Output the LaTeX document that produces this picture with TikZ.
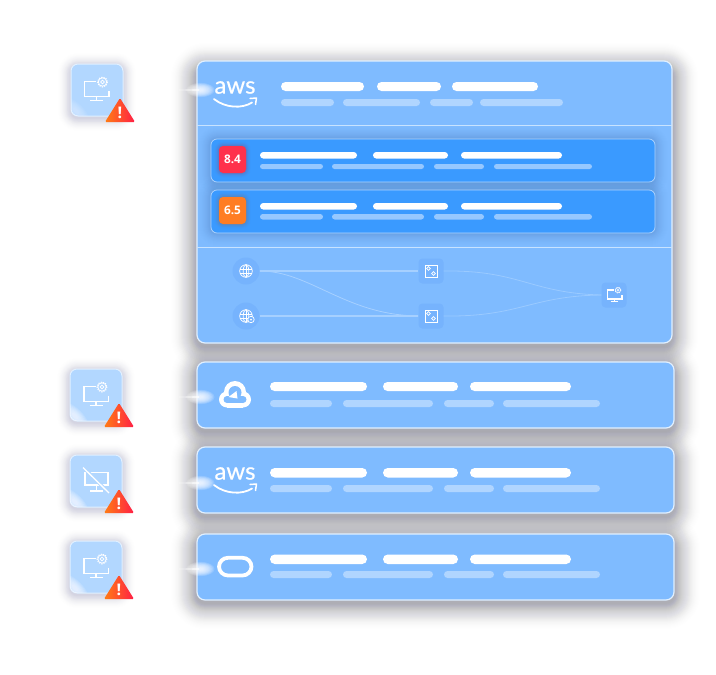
\documentclass[tikz,border=0pt]{standalone}
\usepackage{fontspec}
\setmainfont{Open Sans}
\newfontfamily\awsfont[FakeBold=0.4]{Lato}
\definecolor{cardc}{RGB}{127,187,255}
\definecolor{rowc}{RGB}{58,154,255}
\definecolor{panelc}{RGB}{178,215,255}
\definecolor{subc}{RGB}{176,213,255}
\definecolor{rowsub}{RGB}{150,200,255}
\definecolor{shc}{RGB}{55,55,75}
\definecolor{panelsh}{RGB}{90,90,150}
\definecolor{rowsh}{RGB}{40,80,140}
\definecolor{edgec}{RGB}{225,240,255}
\definecolor{iconbg}{RGB}{118,179,253}
\definecolor{flowc}{RGB}{166,208,255}
\definecolor{warnl}{RGB}{255,125,20}
\definecolor{warnr}{RGB}{255,30,70}
\definecolor{badgea}{RGB}{255,49,76}
\definecolor{badgeb}{RGB}{255,125,35}
\newcommand{\softsh}[9]{% x1 y1 x2 y2 radius spread layers opacity colour
  \foreach \i in {1,...,#7}{
    \pgfmathsetmacro{\sp}{#6*pow(\i/#7,1.05)}
    \pgfmathsetmacro{\rr}{#5+\sp}
    \pgfmathsetmacro{\op}{#8*(1.08-\i/#7)*2}
    \fill[#9,opacity=\op,rounded corners=\rr pt] (#1-\sp,#2-\sp) rectangle (#3+\sp,#4+\sp);
  }}
\newcommand{\glowat}[2]{%
  \foreach \k in {1,...,10}{
    \fill[white,opacity=.16] (#1+1.5,#2) ellipse ({1+\k*1.3} and {.6+\k*.65});
  }
  \fill[white,opacity=.6] (#1-20,#2-.25) -- (#1,#2-1) -- (#1,#2+1) -- (#1-20,#2+.25) -- cycle;
}
\newcommand{\barset}[4]{% y1 y2 colour list
  \foreach \a/\b in {#4}{
    \pgfmathsetmacro{\rr}{(#2-#1)/2}
    \fill[#3,rounded corners=\rr pt] (\a,#1) rectangle (\b,#2);
  }}
\newcommand{\panelglow}[3]{%
  \begin{scope}
  \clip[rounded corners=7pt] (#1,#2) rectangle (#1+52,#2+52);
  \foreach \k in {1,...,7}{
    \fill[white,opacity=#3,rotate around={-45:(#1+5,#2+47)}] (#1+5,#2+47) ellipse ({2+\k*2.3} and {1+\k*.9});
  }
  \end{scope}}
\newcommand{\warn}[3]{% x y name: left-bottom corner
  \shade[left color=warnl,right color=warnr,rounded corners=1.2pt]
    (#1,#2) -- (#1+15,#2-24) -- (#1+30,#2) -- cycle;
  \node[warnmark] (#3) at (#1+15,#2-9.5) {!};
}
\tikzset{
  x=1pt,y=-1pt,
  icl/.style={white,line width=1.9pt},
  warnmark/.style={white,inner sep=0pt,font=\fontsize{16}{16}\selectfont\bfseries},
  score/.style={white,inner sep=0pt,font=\fontsize{11.8}{13}\selectfont\bfseries},
  awstext/.style={white,inner sep=0pt,font=\awsfont\fontsize{24}{24}\selectfont},
  flowring/.style={circle,fill=iconbg,minimum size=27pt,inner sep=0pt},
  flowsq/.style={rectangle,rounded corners=4pt,fill=iconbg,minimum size=25pt,inner sep=0pt},
  flowbar/.style={flowc,line width=1.6pt},
  flowthin/.style={flowc,line width=.8pt},
  flowfaint/.style={flowc!70!cardc,line width=.8pt},
  moni/.pic={
    \draw[white,line width=#1] (11,-11) -- (-.5,-11) -- (-.5,4) -- (24,4) -- (24,-2);
    \draw[white,line width=#1] (11.5,4) -- (11.5,8);
    \draw[white,line width=#1] (5,8) -- (18,8);
    \draw[white,line width=.4*#1] (17.5,-10.5) circle (4.2);
    \draw[white,line width=.5*#1,dash pattern=on 1.2pt off 1.2pt] (17.5,-10.5) circle (5);
    \draw[white,line width=.35*#1] (17.5,-10.5) circle (1.8);
  },
  awssm/.pic={
    \draw[white,line width=1.8pt,line cap=round] (-21,11) .. controls (-10,20) and (7,21) .. (17,14.5);
    \draw[white,line width=1.5pt,line cap=round,line join=round] (15,10.5) -- (21.5,10) -- (20.5,16.5);
  },
}
\begin{document}
\begin{tikzpicture}
\useasboundingbox (0,0) rectangle (716,675);
\fill[white] (0,0) rectangle (716,675);
% shadows of the cards
\softsh{197}{69}{672}{346}{8}{26}{26}{.015}{shc}
\softsh{197}{368}{674}{431}{8}{26}{26}{.015}{shc}
\softsh{197}{453}{674}{516}{8}{26}{26}{.015}{shc}
\softsh{197}{540}{674}{603}{8}{26}{26}{.015}{shc}
% shadows of the icon panels
\softsh{71}{66}{123}{118}{7}{13}{16}{.014}{panelsh}
\softsh{70}{371}{122}{423}{7}{13}{16}{.014}{panelsh}
\softsh{70}{457}{122}{509}{7}{13}{16}{.014}{panelsh}
\softsh{70}{543}{122}{595}{7}{13}{16}{.014}{panelsh}
% cards
\foreach \ya/\yb in {61/343}{
  \filldraw[fill=cardc,draw=edgec,line width=1.2pt,rounded corners=8pt] (197,\ya) rectangle (672,\yb);
}
\foreach \ya/\yb in {362/428,447/513,534/600}{
  \filldraw[fill=cardc,draw=edgec,line width=1.2pt,rounded corners=8pt] (197,\ya) rectangle (674,\yb);
}
\draw[edgec!75!cardc,line width=.8pt] (197,125.5) -- (672,125.5);
\draw[edgec!75!cardc,line width=.8pt] (197,247.5) -- (672,247.5);
% glows on card edges
\glowat{199}{90}
\glowat{199}{397}
\glowat{199}{483}
\glowat{199}{569}
% top card texts
\pic at (235,88) {awssm};
\node[awstext] (aws1) at (235,87.5) {aws};
\barset{82}{91}{white}{281/364,377/441,452/538}
\barset{99}{106}{subc}{281/334,343/420,430/473,480/563}
% rows
\begin{scope}
\clip[rounded corners=8pt] (197,61) rectangle (672,343);
\softsh{211}{139}{655}{182}{6}{14}{14}{.012}{rowsh}
\softsh{211}{190}{655}{233}{6}{14}{14}{.012}{rowsh}
\end{scope}
\filldraw[fill=rowc,draw=subc,line width=.7pt,rounded corners=6pt] (211,139) rectangle (655,182);
\filldraw[fill=rowc,draw=subc,line width=.7pt,rounded corners=6pt] (211,190) rectangle (655,233);
\softsh{219}{146}{246}{173}{4}{5}{6}{.04}{badgea!70!black}
\softsh{219}{197}{246}{224}{4}{5}{6}{.04}{badgeb!70!black}
\fill[badgea,rounded corners=4pt] (219,146) rectangle (246,173);
\fill[badgeb,rounded corners=4pt] (219,197) rectangle (246,224);
\node[score] (s84) at (232.5,159.5) {8.4};
\node[score] (s65) at (232.5,210.5) {6.5};
\barset{152}{158.5}{white}{260/357,373/448,461/562}
\barset{164}{169}{rowsub}{260/323,332/424,434/484,494/592}
\barset{203}{209.5}{white}{260/357,373/448,461/562}
\barset{214}{219.5}{rowsub}{260/323,332/424,434/484,494/592}
% flow
\node[flowring] (g1) at (246,271) {};
\node[flowring] (g2) at (246,316) {};
\node[flowsq] (b1) at (431,271) {};
\node[flowsq] (b2) at (431,316) {};
\node[flowsq] (t) at (614,295) {};
\draw[flowbar] (g1) -- (b1);
\draw[flowbar] (g2.east) -- (b2.west);
\draw[flowthin] (g1.east) .. controls (310,271) and (345,315) .. (b2.west);
\draw[flowfaint] (b1.east) .. controls (520,270) and (530,293) .. (t.west);
\draw[flowfaint] (b2.east) .. controls (520,317) and (530,296) .. (t.west);
% globes
\foreach \n in {g1,g2}{
  \begin{scope}[shift={(\n)}]
  \draw[white,line width=.7pt] (0,0) circle (6.3);
  \draw[white,line width=.7pt] (0,0) ellipse (2.8 and 6.3);
  \draw[white,line width=.7pt] (-6,-2) -- (6,-2) (-6,2) -- (6,2) (0,-6.3) -- (0,6.3);
  \end{scope}
}
\filldraw[fill=iconbg,draw=white,line width=.7pt] ([xshift=5pt,yshift=-3.5pt]g2.center) circle (3.2);
\fill[white] ([xshift=5pt,yshift=-3.5pt]g2.center) circle (1);
% boxes
\foreach \n in {b1,b2}{
  \begin{scope}[shift={(\n)}]
  \draw[white,line width=.9pt] (-6,-6) rectangle (6,6);
  \draw[white,line width=.7pt] (-2.5,-2.5) circle (1.8) (2.5,2.5) circle (1.8);
  \end{scope}
}
\pic[scale=.6] at (607.5,296.5) {moni=1.2pt};
% bars in lower cards
\barset{382}{391}{white}{270/367,383/458,470/571}
\barset{400}{407}{subc}{270/332,343/433,444/494,503/600}
\barset{468}{477.5}{white}{270/367,383/458,470/571}
\barset{485}{492}{subc}{270/332,343/433,444/494,503/600}
\barset{554.5}{564}{white}{270/367,383/458,470/571}
\barset{571}{578}{subc}{270/332,343/433,444/494,503/600}
% google cloud
\fill[white] (235,392) circle (11);
\fill[white] (227,399.5) circle (8);
\fill[white] (243,399.5) circle (8);
\fill[white] (227,395) rectangle (243,407.5);
\fill[cardc] (235,392.5) circle (6.5);
\fill[cardc] (227,399.5) circle (3.5);
\fill[cardc] (243,399.5) circle (3.5);
\fill[cardc] (227,396) rectangle (243,403);
\fill[white] (228.5,397) -- (236.5,391) -- (237.5,398.5) -- cycle;
% aws 2
\pic at (235,474) {awssm};
\node[awstext] (aws2) at (235,473.5) {aws};
% oracle
\draw[white,line width=3.8pt,rounded corners=9pt] (219,557.8) rectangle (251.5,575.5);
% icon panels
\filldraw[fill=panelc,draw=edgec,line width=1pt,rounded corners=7pt] (71,64) rectangle (123,116);
\filldraw[fill=panelc,draw=edgec,line width=1pt,rounded corners=7pt] (70,369) rectangle (122,421);
\filldraw[fill=panelc,draw=edgec,line width=1pt,rounded corners=7pt] (70,455) rectangle (122,507);
\filldraw[fill=panelc,draw=edgec,line width=1pt,rounded corners=7pt] (70,541) rectangle (122,593);
\panelglow{71}{64}{.06}
\panelglow{70}{369}{.14}
\panelglow{70}{455}{.14}
\panelglow{70}{541}{.14}
\pic at (85,92.5) {moni=1.9pt};
\pic at (84.5,397.5) {moni=1.9pt};
\pic at (84.5,569.5) {moni=1.9pt};
% crossed monitor
\draw[icl] (85,472.5) -- (108,472.5) -- (108,485) -- (85,485) -- cycle;
\draw[icl] (96.5,485) -- (96.5,490);
\draw[icl] (90,491) -- (103,491);
\draw[panelc,line width=3.4pt] (82,466) -- (110,494);
\draw[white,line width=1.3pt] (83,467.5) -- (109,493);
% warning triangles
\warn{105}{122}{w1}
\warn{104}{427}{w2}
\warn{104}{513}{w3}
\warn{104}{599}{w4}
\end{tikzpicture}
\end{document}
